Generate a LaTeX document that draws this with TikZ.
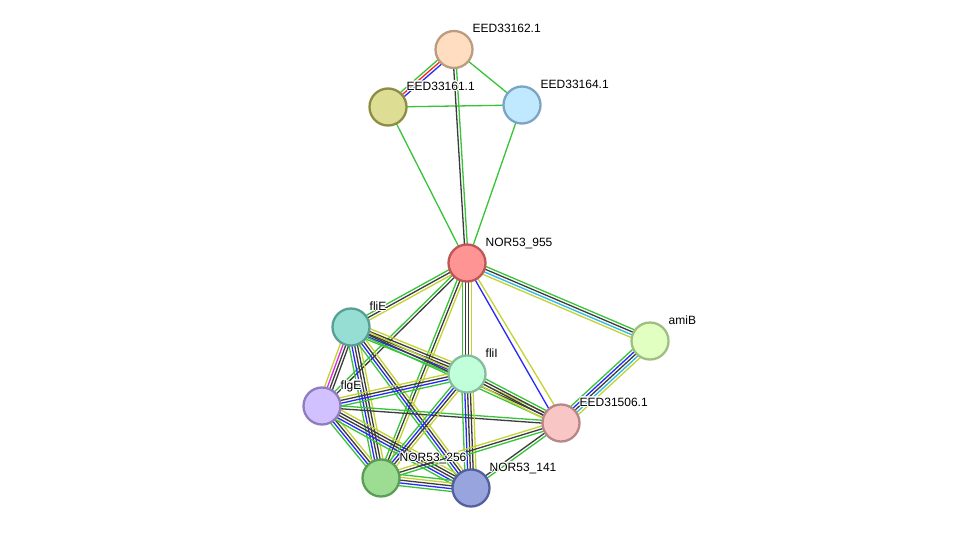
\documentclass[tikz,border=0pt]{standalone}
\usepackage{fontspec}
\setmainfont{Liberation Sans}
\usepackage[copies]{contour}
\contourlength{0.9pt}
\contournumber{16}
\usetikzlibrary{calc,backgrounds}
\definecolor{eG}{RGB}{56,196,56}
\definecolor{eK}{RGB}{60,60,60}
\definecolor{eY}{RGB}{196,210,50}
\definecolor{eB}{RGB}{40,40,250}
\definecolor{eC}{RGB}{40,185,230}
\definecolor{eM}{RGB}{225,40,225}
\definecolor{eR}{RGB}{250,40,40}
\tikzset{
  prot/.style={circle, minimum size=37pt, inner sep=0pt, line width=2.3pt},
  lbl/.style={anchor=base west, inner sep=0pt, font=\fontsize{12}{14}\selectfont},
  eline/.style={line width=1.3pt},
}
\newcommand{\medge}[3]{%
  \gdef\myN{0}%
  \foreach \ecol in {#3}{\pgfmathtruncatemacro{\mytmp}{\myN+1}\xdef\myN{\mytmp}}%
  \foreach \ecol [count=\i] in {#3}{%
    \pgfmathsetmacro{\off}{(\i-(\myN+1)/2)*2.8}%
    \draw[eline, draw=\ecol] ($(#1.center)!\off pt!90:(#2.center)$) -- ($(#2.center)!\off pt!-90:(#1.center)$);
  }%
}
\newcommand{\lbltext}[1]{\contour{white}{#1}}
\begin{document}
\begin{tikzpicture}[x=1pt,y=-1pt]
\useasboundingbox (0,0) rectangle (976,533);
% nodes
\node[prot, fill={rgb,255:red,255;green,221;blue,192}, draw={rgb,255:red,188;green,156;blue,128}] (e162) at (454,49.5) {};
\node[prot, fill={rgb,255:red,222;green,221;blue,148}, draw={rgb,255:red,140;green,140;blue,69}] (e161) at (388,107) {};
\node[prot, fill={rgb,255:red,192;green,232;blue,255}, draw={rgb,255:red,123;green,166;blue,195}] (e164) at (522,105) {};
\node[prot, fill={rgb,255:red,255;green,148;blue,148}, draw={rgb,255:red,191;green,86;blue,86}] (n955) at (467,263) {};
\node[prot, fill={rgb,255:red,225;green,255;blue,193}, draw={rgb,255:red,160;green,190;blue,128}] (amiB) at (650,341) {};
\node[prot, fill={rgb,255:red,150;green,222;blue,212}, draw={rgb,255:red,87;green,160;blue,150}] (fliE) at (351,327) {};
\node[prot, fill={rgb,255:red,193;green,255;blue,218}, draw={rgb,255:red,133;green,189;blue,156}] (fliI) at (467,374) {};
\node[prot, fill={rgb,255:red,210;green,193;blue,255}, draw={rgb,255:red,143;green,125;blue,191}] (flgE) at (322,406) {};
\node[prot, fill={rgb,255:red,249;green,198;blue,198}, draw={rgb,255:red,184;green,134;blue,134}] (e31506) at (561,423) {};
\node[prot, fill={rgb,255:red,156;green,221;blue,147}, draw={rgb,255:red,92;green,157;blue,85}] (n256) at (381,478) {};
\node[prot, fill={rgb,255:red,152;green,164;blue,222}, draw={rgb,255:red,83;green,96;blue,158}] (n141) at (471,488) {};
% labels
\node[lbl] (l162) at (472.5,32.8) {\lbltext{EED33162.1}};
\node[lbl] (l161) at (406.5,90.3) {\lbltext{EED33161.1}};
\node[lbl] (l164) at (540.5,88.3) {\lbltext{EED33164.1}};
\node[lbl] (l955) at (485.5,246.3) {\lbltext{NOR53\_955}};
\node[lbl] (lamiB) at (668.5,324.3) {\lbltext{amiB}};
\node[lbl] (lfliE) at (369.5,310.3) {\lbltext{fliE}};
\node[lbl] (lfliI) at (485.5,357.3) {\lbltext{fliI}};
\node[lbl] (lflgE) at (340.5,389.3) {\lbltext{flgE}};
\node[lbl] (l31506) at (579.5,406.3) {\lbltext{EED31506.1}};
\node[lbl] (l256) at (399.5,461.3) {\lbltext{NOR53\_256}};
\node[lbl] (l141) at (489.5,471.3) {\lbltext{NOR53\_141}};
\begin{pgfonlayer}{background}
\fill[white] (0,0) rectangle (976,533);
\medge{e162}{e161}{eG,eR,eB}
\medge{e162}{e164}{eG}
\medge{e161}{e164}{eG}
\medge{e162}{n955}{eK,eG}
\medge{e161}{n955}{eG}
\medge{e164}{n955}{eG}
\medge{n955}{amiB}{eY,eC,eK,eG}
\medge{n955}{fliE}{eG,eK,eY}
\medge{n955}{flgE}{eG,eK}
\medge{n955}{n256}{eG,eK,eY}
\medge{n955}{fliI}{eG,eK,eK,eY}
\draw[eline, draw=eB] ($(n955.center)!-1.3pt!90:(e31506.center)$) -- ($(e31506.center)!-3.5pt!-90:(n955.center)$);
\draw[eline, draw=eY] ($(n955.center)!1.3pt!90:(e31506.center)$) -- ($(e31506.center)!3.5pt!-90:(n955.center)$);
\medge{amiB}{e31506}{eG,eB,eK,eC,eY}
\medge{fliE}{flgE}{eY,eM,eK,eK}
\medge{fliE}{fliI}{eG,eB,eK,eK,eY}
\medge{fliE}{e31506}{eG,eK,eY}
\medge{fliE}{n256}{eG,eB,eK,eK,eY}
\medge{fliE}{n141}{eG,eB,eK,eY}
\medge{flgE}{fliI}{eG,eB,eK,eY}
\medge{flgE}{e31506}{eK,eG}
\medge{flgE}{n256}{eG,eB,eK,eY}
\medge{flgE}{n141}{eG,eB,eK,eK,eY}
\medge{fliI}{e31506}{eY,eK,eK,eG}
\medge{fliI}{n256}{eG,eB,eK,eY}
\medge{fliI}{n141}{eG,eB,eK,eK,eY}
\medge{e31506}{n256}{eY,eK,eG}
\medge{e31506}{n141}{eK,eG}
\medge{n256}{n141}{eG,eB,eK,eY,eG}
\end{pgfonlayer}
\end{tikzpicture}
\end{document}
